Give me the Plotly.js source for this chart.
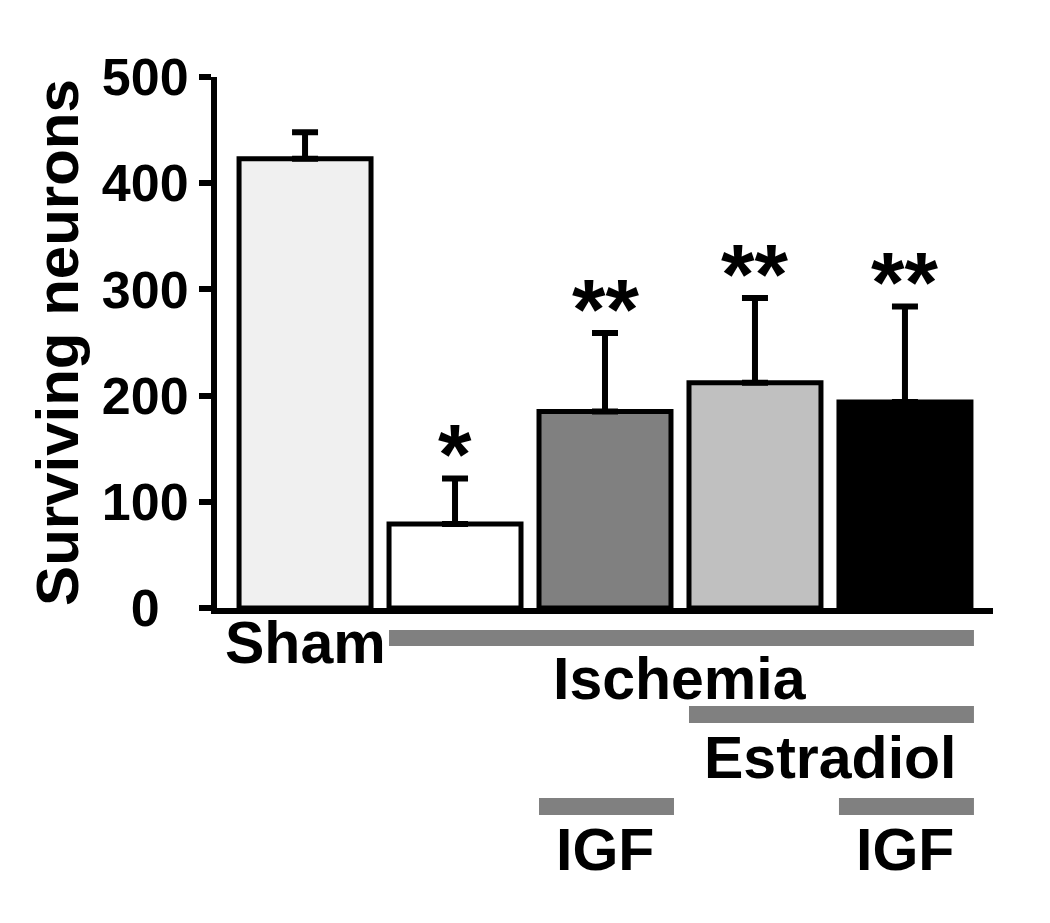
<!DOCTYPE html>
<html>
<head>
<meta charset="utf-8">
<script src="https://cdn.plot.ly/plotly-3.0.1.min.js"></script>
<style>html,body{margin:0;padding:0;background:#fff;}#chart{width:1050px;height:923px;}</style>
</head>
<body>
<div id="chart"></div>
<script>
// ---- data ----
const groups = ['Sham', 'Ischemia', 'Ischemia + IGF', 'Ischemia + Estradiol', 'Ischemia + Estradiol + IGF'];
const neurons = [423, 79, 185, 212, 194];
const sem = [25, 43, 74, 80, 90];
const stars = ['', '*', '**', '**', '**'];
const yTicks = [0, 100, 200, 300, 400, 500];
const yTickText = ['0\u00a0\u00a0', '100', '200', '300', '400', '500'];
// treatment bars under the axis (category index spans)
const treatmentLabels = ['Ischemia', 'Estradiol', 'IGF', 'IGF'];
const treatmentStart = [1, 3, 2, 4];
const treatmentEnd = [4, 4, 2, 4];

// ---- style ----
const barColors = ['#f0f0f0', '#ffffff', '#808080', '#c0c0c0', '#000000'];
const FONT = 'Liberation Sans, Arial, Helvetica, sans-serif';
const rowLine = [[-0.0414, -0.0716], [-0.1846, -0.2166], [-0.3578, -0.3898], [-0.3578, -0.3898]];
const rowText = [-0.133, -0.282, -0.455, -0.455];
const xIdx = groups.map((g, i) => i);

const trace = {
  type: 'bar',
  x: xIdx,
  y: neurons,
  width: 0.88,
  marker: {color: barColors, line: {color: '#000', width: 5}},
  error_y: {type: 'data', array: sem, arrayminus: sem.map(() => 0), symmetric: false,
            color: '#000', thickness: 6, width: 13},
  hoverinfo: 'none'
};

const shapes = [];
const annotations = [];
treatmentLabels.forEach((lab, i) => {
  const yr = rowLine[i];
  shapes.push({type: 'rect', xref: 'x', yref: 'paper',
    x0: treatmentStart[i] - 0.44, x1: treatmentEnd[i] + 0.46,
    y0: yr[0], y1: yr[1], fillcolor: '#808080', line: {width: 0}, layer: 'above'});
  annotations.push({xref: 'x', yref: 'paper', x: (treatmentStart[i] + treatmentEnd[i]) / 2,
    y: rowText[i], text: lab, showarrow: false, xanchor: 'center', yanchor: 'middle',
    font: {family: FONT, size: 59, color: '#000', weight: 'bold'}});
});
annotations.push({xref: 'x', yref: 'paper', x: 0, y: -0.066, text: groups[0], showarrow: false,
  xanchor: 'center', yanchor: 'middle', font: {family: FONT, size: 59, color: '#000', weight: 'bold'}});
stars.forEach((s, i) => {
  if (!s) return;
  annotations.push({xref: 'x', yref: 'y', x: i, y: neurons[i] + sem[i], text: s, showarrow: false,
    xanchor: 'center', yanchor: 'bottom', yshift: -26,
    font: {family: FONT, size: 86, color: '#000', weight: 'bold'}});
});

const layout = {
  width: 1050, height: 923,
  margin: {l: 217, r: 57, t: 77, b: 315, pad: 0},
  paper_bgcolor: '#fff', plot_bgcolor: '#fff',
  showlegend: false,
  font: {family: FONT, color: '#000'},
  xaxis: {range: [-0.587, 4.587], showticklabels: false, ticks: '', showgrid: false, zeroline: false,
          showline: true, linecolor: '#000', linewidth: 6, fixedrange: true},
  yaxis: {range: [0, 500], tickvals: yTicks, ticktext: yTickText, ticks: 'outside', ticklen: 12, tickwidth: 6, tickcolor: '#000',
          showgrid: false, zeroline: false, showline: true, linecolor: '#000', linewidth: 6,
          tickfont: {family: FONT, size: 52, color: '#000', weight: 'bold'},
          title: {text: 'Surviving neurons', standoff: 6, font: {family: FONT, size: 60, color: '#000', weight: 'bold'}},
          fixedrange: true},
  shapes: shapes,
  annotations: annotations
};

Plotly.newPlot('chart', [trace], layout, {displayModeBar: false, staticPlot: true});
</script>
</body>
</html>
